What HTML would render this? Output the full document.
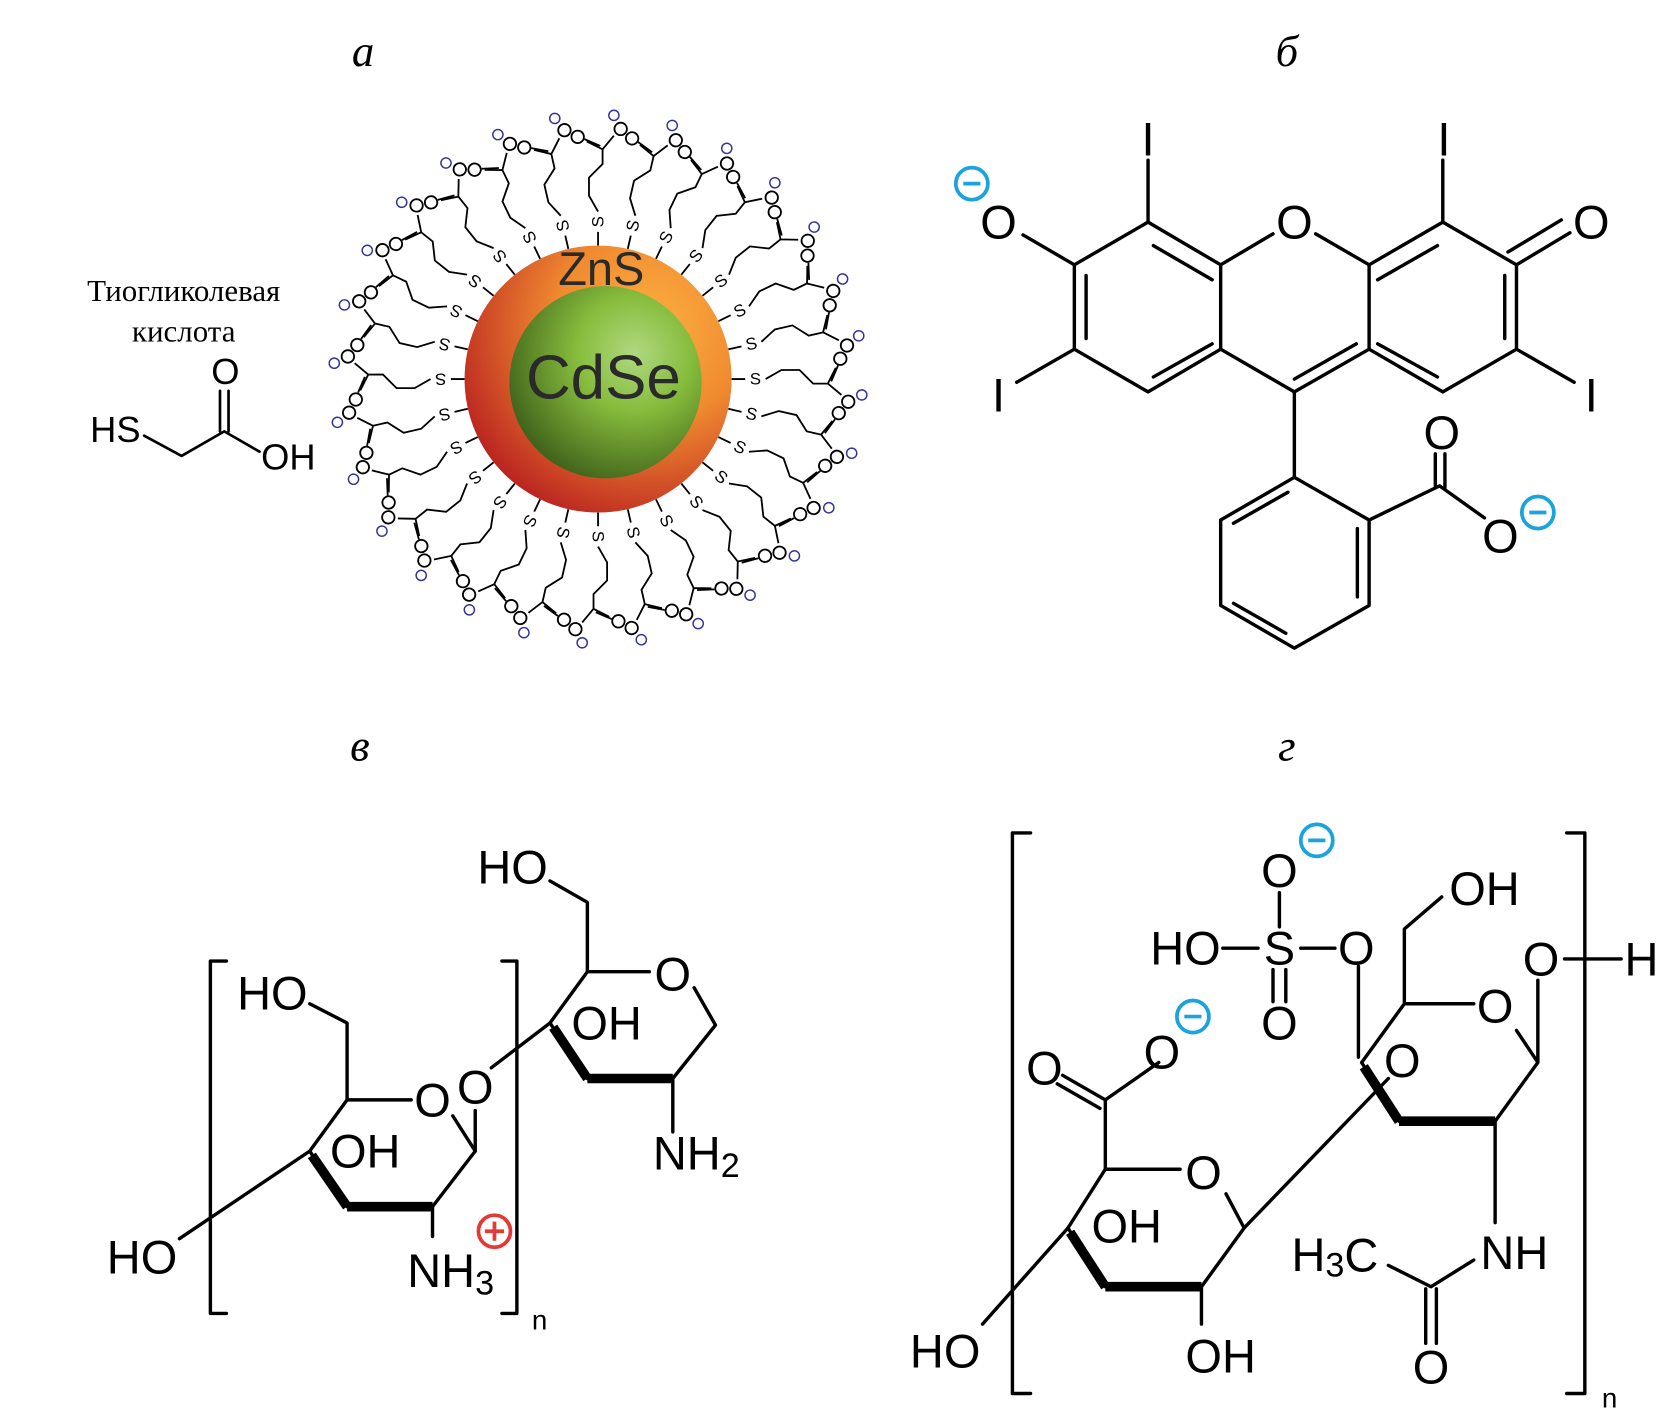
<!DOCTYPE html>
<html><head><meta charset="utf-8"><style>
html,body{margin:0;padding:0;background:#fff}
svg{display:block}
text{font-family:"Liberation Sans",sans-serif;fill:#000}
.it{font-family:"Liberation Serif",serif;font-style:italic;font-size:42px}
.a{font-size:44px;text-anchor:middle;dominant-baseline:central}
.l{fill:none;stroke:#000;stroke-width:3.2;stroke-linecap:round;stroke-linejoin:round}
.b{fill:none;stroke:#000;stroke-width:9;stroke-linejoin:round}
.lg text{font-size:15px;text-anchor:middle;dominant-baseline:central}
.lg .p{fill:none;stroke:#000;stroke-width:1.6}
.lg .m{fill:none;stroke:#33339a;stroke-width:1.3}
</style></head><body>
<svg width="1666" height="1417" viewBox="0 0 1560 1327" preserveAspectRatio="none" xmlns="http://www.w3.org/2000/svg">
<defs>
<radialGradient id="sh" cx="0.7" cy="0.3" r="0.8">
<stop offset="0" stop-color="#fbb040"/><stop offset="0.45" stop-color="#f08a30"/><stop offset="1" stop-color="#b82020"/></radialGradient>
<radialGradient id="co" cx="0.65" cy="0.35" r="0.75">
<stop offset="0" stop-color="#b0d880"/><stop offset="0.4" stop-color="#86bc3c"/><stop offset="1" stop-color="#3a5a18"/></radialGradient>
</defs>
<text class="it" x="340" y="62" text-anchor="middle">а</text>
<text class="it" x="1205" y="62" text-anchor="middle">б</text>
<text class="it" x="337" y="712" text-anchor="middle">в</text>
<text class="it" x="1205" y="712" text-anchor="middle">г</text>

<!-- thioglycolic acid -->
<text x="172" y="282" font-size="29" text-anchor="middle" style="font-family:'Liberation Serif',serif">Тиогликолевая</text>
<text x="172" y="320" font-size="29" text-anchor="middle" style="font-family:'Liberation Serif',serif">кислота</text>
<text class="a" x="108" y="402" style="font-size:34px">HS</text>
<text class="a" x="211" y="348" style="font-size:34px">O</text>
<text class="a" x="270" y="428" style="font-size:34px">OH</text>
<path class="l" style="stroke-width:2.5" d="M135 408 L170 427 L210 404 L243 423 M206 404 V366 M214 404 V366"/>

<!-- nanoparticle -->
<g transform="translate(560,355)">
<g class="lg" transform="scale(1.06)">
<g transform="rotate(0)"><path class="p" d="M118 0H130M148 0L162-8H178L190 4H203M203 4L210-10M206 2L212-12M203 4L215 14"/><text x="139" y="0">S</text><circle class="p" cx="214" cy="-18" r="5.5"/><circle class="p" cx="221" cy="20" r="5.5"/><circle class="m" cx="233" cy="14" r="4.5"/></g>
<g transform="rotate(12.86)"><path class="p" d="M118 0H130M148 0L162-8H178L190 4H203M203 4L210-10M206 2L212-12M203 4L215 14"/><text x="139" y="0">S</text><circle class="p" cx="214" cy="-18" r="5.5"/><circle class="p" cx="221" cy="20" r="5.5"/><circle class="m" cx="233" cy="14" r="4.5"/></g>
<g transform="rotate(25.71)"><path class="p" d="M118 0H130M148 0L162-8H178L190 4H203M203 4L210-10M206 2L212-12M203 4L215 14"/><text x="139" y="0">S</text><circle class="p" cx="214" cy="-18" r="5.5"/><circle class="p" cx="221" cy="20" r="5.5"/><circle class="m" cx="233" cy="14" r="4.5"/></g>
<g transform="rotate(38.57)"><path class="p" d="M118 0H130M148 0L162-8H178L190 4H203M203 4L210-10M206 2L212-12M203 4L215 14"/><text x="139" y="0">S</text><circle class="p" cx="214" cy="-18" r="5.5"/><circle class="p" cx="221" cy="20" r="5.5"/><circle class="m" cx="233" cy="14" r="4.5"/></g>
<g transform="rotate(51.43)"><path class="p" d="M118 0H130M148 0L162-8H178L190 4H203M203 4L210-10M206 2L212-12M203 4L215 14"/><text x="139" y="0">S</text><circle class="p" cx="214" cy="-18" r="5.5"/><circle class="p" cx="221" cy="20" r="5.5"/><circle class="m" cx="233" cy="14" r="4.5"/></g>
<g transform="rotate(64.29)"><path class="p" d="M118 0H130M148 0L162-8H178L190 4H203M203 4L210-10M206 2L212-12M203 4L215 14"/><text x="139" y="0">S</text><circle class="p" cx="214" cy="-18" r="5.5"/><circle class="p" cx="221" cy="20" r="5.5"/><circle class="m" cx="233" cy="14" r="4.5"/></g>
<g transform="rotate(77.14)"><path class="p" d="M118 0H130M148 0L162-8H178L190 4H203M203 4L210-10M206 2L212-12M203 4L215 14"/><text x="139" y="0">S</text><circle class="p" cx="214" cy="-18" r="5.5"/><circle class="p" cx="221" cy="20" r="5.5"/><circle class="m" cx="233" cy="14" r="4.5"/></g>
<g transform="rotate(90)"><path class="p" d="M118 0H130M148 0L162-8H178L190 4H203M203 4L210-10M206 2L212-12M203 4L215 14"/><text x="139" y="0">S</text><circle class="p" cx="214" cy="-18" r="5.5"/><circle class="p" cx="221" cy="20" r="5.5"/><circle class="m" cx="233" cy="14" r="4.5"/></g>
<g transform="rotate(102.86)"><path class="p" d="M118 0H130M148 0L162-8H178L190 4H203M203 4L210-10M206 2L212-12M203 4L215 14"/><text x="139" y="0">S</text><circle class="p" cx="214" cy="-18" r="5.5"/><circle class="p" cx="221" cy="20" r="5.5"/><circle class="m" cx="233" cy="14" r="4.5"/></g>
<g transform="rotate(115.71)"><path class="p" d="M118 0H130M148 0L162-8H178L190 4H203M203 4L210-10M206 2L212-12M203 4L215 14"/><text x="139" y="0">S</text><circle class="p" cx="214" cy="-18" r="5.5"/><circle class="p" cx="221" cy="20" r="5.5"/><circle class="m" cx="233" cy="14" r="4.5"/></g>
<g transform="rotate(128.57)"><path class="p" d="M118 0H130M148 0L162-8H178L190 4H203M203 4L210-10M206 2L212-12M203 4L215 14"/><text x="139" y="0">S</text><circle class="p" cx="214" cy="-18" r="5.5"/><circle class="p" cx="221" cy="20" r="5.5"/><circle class="m" cx="233" cy="14" r="4.5"/></g>
<g transform="rotate(141.43)"><path class="p" d="M118 0H130M148 0L162-8H178L190 4H203M203 4L210-10M206 2L212-12M203 4L215 14"/><text x="139" y="0">S</text><circle class="p" cx="214" cy="-18" r="5.5"/><circle class="p" cx="221" cy="20" r="5.5"/><circle class="m" cx="233" cy="14" r="4.5"/></g>
<g transform="rotate(154.29)"><path class="p" d="M118 0H130M148 0L162-8H178L190 4H203M203 4L210-10M206 2L212-12M203 4L215 14"/><text x="139" y="0">S</text><circle class="p" cx="214" cy="-18" r="5.5"/><circle class="p" cx="221" cy="20" r="5.5"/><circle class="m" cx="233" cy="14" r="4.5"/></g>
<g transform="rotate(167.14)"><path class="p" d="M118 0H130M148 0L162-8H178L190 4H203M203 4L210-10M206 2L212-12M203 4L215 14"/><text x="139" y="0">S</text><circle class="p" cx="214" cy="-18" r="5.5"/><circle class="p" cx="221" cy="20" r="5.5"/><circle class="m" cx="233" cy="14" r="4.5"/></g>
<g transform="rotate(180)"><path class="p" d="M118 0H130M148 0L162-8H178L190 4H203M203 4L210-10M206 2L212-12M203 4L215 14"/><text x="139" y="0">S</text><circle class="p" cx="214" cy="-18" r="5.5"/><circle class="p" cx="221" cy="20" r="5.5"/><circle class="m" cx="233" cy="14" r="4.5"/></g>
<g transform="rotate(192.86)"><path class="p" d="M118 0H130M148 0L162-8H178L190 4H203M203 4L210-10M206 2L212-12M203 4L215 14"/><text x="139" y="0">S</text><circle class="p" cx="214" cy="-18" r="5.5"/><circle class="p" cx="221" cy="20" r="5.5"/><circle class="m" cx="233" cy="14" r="4.5"/></g>
<g transform="rotate(205.71)"><path class="p" d="M118 0H130M148 0L162-8H178L190 4H203M203 4L210-10M206 2L212-12M203 4L215 14"/><text x="139" y="0">S</text><circle class="p" cx="214" cy="-18" r="5.5"/><circle class="p" cx="221" cy="20" r="5.5"/><circle class="m" cx="233" cy="14" r="4.5"/></g>
<g transform="rotate(218.57)"><path class="p" d="M118 0H130M148 0L162-8H178L190 4H203M203 4L210-10M206 2L212-12M203 4L215 14"/><text x="139" y="0">S</text><circle class="p" cx="214" cy="-18" r="5.5"/><circle class="p" cx="221" cy="20" r="5.5"/><circle class="m" cx="233" cy="14" r="4.5"/></g>
<g transform="rotate(231.43)"><path class="p" d="M118 0H130M148 0L162-8H178L190 4H203M203 4L210-10M206 2L212-12M203 4L215 14"/><text x="139" y="0">S</text><circle class="p" cx="214" cy="-18" r="5.5"/><circle class="p" cx="221" cy="20" r="5.5"/><circle class="m" cx="233" cy="14" r="4.5"/></g>
<g transform="rotate(244.29)"><path class="p" d="M118 0H130M148 0L162-8H178L190 4H203M203 4L210-10M206 2L212-12M203 4L215 14"/><text x="139" y="0">S</text><circle class="p" cx="214" cy="-18" r="5.5"/><circle class="p" cx="221" cy="20" r="5.5"/><circle class="m" cx="233" cy="14" r="4.5"/></g>
<g transform="rotate(257.14)"><path class="p" d="M118 0H130M148 0L162-8H178L190 4H203M203 4L210-10M206 2L212-12M203 4L215 14"/><text x="139" y="0">S</text><circle class="p" cx="214" cy="-18" r="5.5"/><circle class="p" cx="221" cy="20" r="5.5"/><circle class="m" cx="233" cy="14" r="4.5"/></g>
<g transform="rotate(270)"><path class="p" d="M118 0H130M148 0L162-8H178L190 4H203M203 4L210-10M206 2L212-12M203 4L215 14"/><text x="139" y="0">S</text><circle class="p" cx="214" cy="-18" r="5.5"/><circle class="p" cx="221" cy="20" r="5.5"/><circle class="m" cx="233" cy="14" r="4.5"/></g>
<g transform="rotate(282.86)"><path class="p" d="M118 0H130M148 0L162-8H178L190 4H203M203 4L210-10M206 2L212-12M203 4L215 14"/><text x="139" y="0">S</text><circle class="p" cx="214" cy="-18" r="5.5"/><circle class="p" cx="221" cy="20" r="5.5"/><circle class="m" cx="233" cy="14" r="4.5"/></g>
<g transform="rotate(295.71)"><path class="p" d="M118 0H130M148 0L162-8H178L190 4H203M203 4L210-10M206 2L212-12M203 4L215 14"/><text x="139" y="0">S</text><circle class="p" cx="214" cy="-18" r="5.5"/><circle class="p" cx="221" cy="20" r="5.5"/><circle class="m" cx="233" cy="14" r="4.5"/></g>
<g transform="rotate(308.57)"><path class="p" d="M118 0H130M148 0L162-8H178L190 4H203M203 4L210-10M206 2L212-12M203 4L215 14"/><text x="139" y="0">S</text><circle class="p" cx="214" cy="-18" r="5.5"/><circle class="p" cx="221" cy="20" r="5.5"/><circle class="m" cx="233" cy="14" r="4.5"/></g>
<g transform="rotate(321.43)"><path class="p" d="M118 0H130M148 0L162-8H178L190 4H203M203 4L210-10M206 2L212-12M203 4L215 14"/><text x="139" y="0">S</text><circle class="p" cx="214" cy="-18" r="5.5"/><circle class="p" cx="221" cy="20" r="5.5"/><circle class="m" cx="233" cy="14" r="4.5"/></g>
<g transform="rotate(334.29)"><path class="p" d="M118 0H130M148 0L162-8H178L190 4H203M203 4L210-10M206 2L212-12M203 4L215 14"/><text x="139" y="0">S</text><circle class="p" cx="214" cy="-18" r="5.5"/><circle class="p" cx="221" cy="20" r="5.5"/><circle class="m" cx="233" cy="14" r="4.5"/></g>
<g transform="rotate(347.14)"><path class="p" d="M118 0H130M148 0L162-8H178L190 4H203M203 4L210-10M206 2L212-12M203 4L215 14"/><text x="139" y="0">S</text><circle class="p" cx="214" cy="-18" r="5.5"/><circle class="p" cx="221" cy="20" r="5.5"/><circle class="m" cx="233" cy="14" r="4.5"/></g>
</g>
<circle r="125" fill="url(#sh)"/>
<circle cx="7" cy="3" r="90" fill="url(#co)"/>
<text x="3" y="-88" font-size="44" text-anchor="middle" style="fill:#2a2a2a">ZnS</text>
<text x="5" y="18" font-size="58" text-anchor="middle" style="fill:#2a2a2a">CdSe</text>
</g>

<!-- panel б -->
<g class="l">
<path d="M1143 248 L1192 219 M1232 219 L1282 248 L1282 327 L1212 367 L1143 327 L1143 248"/>
<path d="M1143 248 L1075 208 L1006 248 L1006 327 L1075 367 L1143 327"/>
<path d="M1282 248 L1351 208 L1420 248 L1420 327 L1351 367 L1282 327"/>
<path d="M1135 262 L1080 230 M1017 258 V317 M1080 353 L1135 322"/>
<path d="M1290 262 L1346 230 M1409 258 V317 M1346 353 L1290 322 M1212 355 L1270 322"/>
<path d="M1075 208 V150 M1351 208 V150 M1006 248 L958 220 M1006 327 L952 358 M1420 327 L1474 358"/>
<path d="M1420 248 L1470 218 M1412 236 L1462 206"/>
<path d="M1212 367 V447"/>
<path d="M1212 447 L1282 487 L1282 567 L1212 607 L1143 567 L1143 487 L1212 447"/>
<path d="M1271 495 V559 M1204 593 L1155 565 M1155 490 L1206 461"/>
<path d="M1282 487 L1348 455 L1390 485 M1344 457 V425 M1353 457 V425"/>
</g>
<text class="a" x="1212" y="208">O</text>
<text class="a" x="935" y="208">O</text>
<text class="a" x="1490" y="208">O</text>
<text class="a" x="1075" y="130">I</text>
<text class="a" x="1352" y="130">I</text>
<text class="a" x="935" y="370">I</text>
<text class="a" x="1490" y="370">I</text>
<text class="a" x="1350" y="405">O</text>
<text class="a" x="1405" y="502">O</text>
<g fill="none" stroke="#1aa3dc" stroke-width="3.5"><circle cx="910" cy="172" r="15"/><path d="M902 172H918"/><circle cx="1440" cy="480" r="15"/><path d="M1432 480H1448"/>
<circle cx="1233" cy="787" r="15"/><path d="M1225 787H1241"/><circle cx="1117" cy="952" r="15"/><path d="M1109 952H1125"/></g>

<!-- panel в -->
<g class="l">
<path d="M197 900 H212 M197 900 V1230 H212 M484 900 H470 M484 900 V1230 H470"/>
<path d="M325 1030 H385 M424 1045 L445 1078 L405 1130 M325 1130 L290 1078 L325 1030"/>
<path d="M325 1030 V958 L290 940 M290 1078 L168 1160 M405 1130 V1158"/>
<path d="M445 1078 V1040 M460 1000 L515 958"/>
<path d="M515 958 L550 910 H608 M650 925 L670 960 L630 1010 M550 1010 L515 958 M550 910 V845 L515 825 M630 1010 V1060"/>
</g>
<path class="b" d="M325 1130 H405 M292 1082 L325 1130"/>
<path class="b" d="M550 1010 H630 M518 962 L550 1010"/>
<text class="a" x="255" y="930">HO</text>
<text class="a" x="405" y="1030">O</text>
<text class="a" x="342" y="1078">OH</text>
<text class="a" x="133" y="1177">HO</text>
<text class="a" x="422" y="1190">NH<tspan font-size="32" dy="12">3</tspan></text>
<text class="a" x="445" y="1018">O</text>
<text class="a" x="480" y="812">HO</text>
<text class="a" x="630" y="912">O</text>
<text class="a" x="568" y="958">OH</text>
<text class="a" x="652" y="1080">NH<tspan font-size="32" dy="12">2</tspan></text>
<text x="498" y="1245" font-size="26">n</text>
<g fill="none" stroke="#e53935" stroke-width="3.5"><circle cx="463" cy="1153" r="15"/><path d="M454 1153H472M463 1144V1162"/></g>

<!-- panel г -->
<g class="l">
<path d="M948 780 H965 M948 780 V1305 H965 M1484 780 H1467 M1484 780 V1305 H1467"/>
<path d="M1035 1095 H1105 M1148 1118 L1165 1150 L1125 1205 M1035 1205 L1000 1150 L1035 1095"/>
<path d="M1035 1095 V1030 L1085 995 M1035 1030 L995 1007 M1030 1038 L990 1015 M1000 1150 L920 1240 M1125 1205 V1240"/>
<path d="M1165 1150 L1300 1010"/>
<path d="M1315 940 H1380 M1420 965 L1440 995 L1400 1050 M1310 1050 L1275 995 L1315 940 M1315 940 V870 L1350 840 M1440 995 V918 M1465 898 H1518 M1400 1050 V1145"/>
<path d="M1272 905 V990 M1145 888 H1178 M1218 888 H1250 M1198 836 V868 M1192 908 V938 M1204 908 V938"/>
<path d="M1380 1180 L1340 1205 L1300 1185 M1335 1207 V1258 M1345 1207 V1258"/>
</g>
<path class="b" d="M1035 1205 H1125 M1002 1154 L1035 1205"/>
<path class="b" d="M1310 1050 H1400 M1277 999 L1310 1050"/>
<text class="a" x="978" y="1000">O</text>
<text class="a" x="1088" y="985">O</text>
<text class="a" x="1127" y="1098">O</text>
<text class="a" x="1055" y="1148">OH</text>
<text class="a" x="885" y="1265">HO</text>
<text class="a" x="1143" y="1270">OH</text>
<text class="a" x="1110" y="888">HO</text>
<text class="a" x="1198" y="888">S</text>
<text class="a" x="1270" y="888">O</text>
<text class="a" x="1198" y="815">O</text>
<text class="a" x="1198" y="958">O</text>
<text class="a" x="1390" y="832">OH</text>
<text class="a" x="1443" y="898">O</text>
<text class="a" x="1537" y="898">H</text>
<text class="a" x="1400" y="942">O</text>
<text class="a" x="1313" y="993">O</text>
<text class="a" x="1418" y="1173">NH</text>
<text class="a" x="1250" y="1175">H<tspan font-size="32" dy="10">3</tspan><tspan dy="-10">C</tspan></text>
<text class="a" x="1340" y="1280">O</text>
<text x="1500" y="1318" font-size="26">n</text>
</svg>
</body></html>
